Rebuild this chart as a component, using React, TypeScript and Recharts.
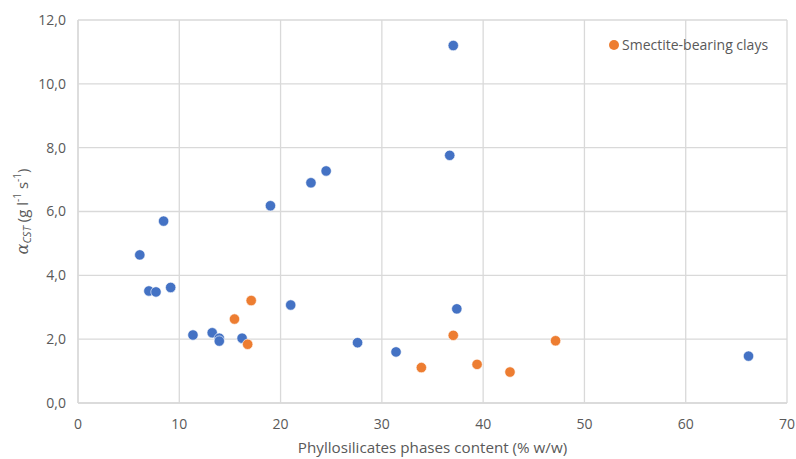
import React from "react";
import { ScatterChart, Scatter, XAxis, YAxis, CartesianGrid, Legend, Label } from "recharts";

// blue series: all clays (x = phyllosilicates %, y = alpha CST)
const clayX = [6.1, 7.0, 7.7, 8.45, 9.15, 11.35, 13.25, 13.95, 13.95, 16.2, 19.0, 21.0, 23.0, 24.5, 27.6, 31.4, 36.7, 37.05, 37.4, 66.2];
const clayY = [4.64, 3.51, 3.48, 5.70, 3.62, 2.13, 2.20, 2.03, 1.94, 2.03, 6.18, 3.07, 6.90, 7.27, 1.89, 1.60, 7.76, 11.2, 2.95, 1.47];

// orange series: smectite-bearing clays
const smectiteX = [15.45, 16.75, 17.1, 33.9, 37.05, 39.4, 42.65, 47.15];
const smectiteY = [2.63, 1.84, 3.21, 1.11, 2.12, 1.21, 0.97, 1.95];

const xTicks = [0, 10, 20, 30, 40, 50, 60, 70];
const yTicks = [0, 2, 4, 6, 8, 10, 12];

const BLUE = "#4472C4";
const ORANGE = "#ED7D31";
const TEXT = "#595959";
const GRID = "#D9D9D9";

const clayData = clayX.map((x, i) => ({ x, y: clayY[i] }));
const smectiteData = smectiteX.map((x, i) => ({ x, y: smectiteY[i] }));

const dot = (color: string) => (props: any) =>
  <circle cx={props.cx} cy={props.cy} r={5.2} fill={color} stroke="#fff" strokeWidth={0.6} />;

const fmt = (v: number) => v.toFixed(1).replace(".", ",");

function YTitle(props: any) {
  const vb = props.viewBox || {};
  const cx = 22;
  const cy = vb.y + vb.height / 2;
  return (
    <text x={cx} y={cy} transform={`rotate(-90 ${cx} ${cy})`} textAnchor="middle" dominantBaseline="central"
      fill={TEXT} fontSize={15}>
      <tspan fontStyle="italic" fontFamily="DejaVu Serif" fontSize={16}>α</tspan>
      <tspan fontStyle="italic" fontSize={11} dy={4}>CST</tspan>
      <tspan dy={-4}> (g l</tspan>
      <tspan fontSize={10} dy={-5}>-1</tspan>
      <tspan dy={5}> s</tspan>
      <tspan fontSize={10} dy={-5}>-1</tspan>
      <tspan dy={5}>)</tspan>
    </text>
  );
}

function XTitle(props: any) {
  const vb = props.viewBox || {};
  return (
    <text x={vb.x + vb.width / 2} y={453} textAnchor="middle" fill={TEXT} fontSize={15.2}>
      Phyllosilicates phases content (% w/w)
    </text>
  );
}

function LegendBox() {
  return (
    <div style={{ display: "flex", alignItems: "center", fontSize: 14, color: TEXT }}>
      <span style={{ width: 10, height: 10, borderRadius: 5, background: ORANGE, display: "inline-block", marginRight: 3 }} />
      <span>Smectite-bearing clays</span>
    </div>
  );
}

export default function App() {
  return (
    <div style={{ width: 796, height: 459, background: "#fff", fontFamily: "'Open Sans', sans-serif" }}>
      <style>{"body{margin:0}"}</style>
      <ScatterChart width={796} height={459} margin={{ top: 20, right: 9, bottom: 26, left: 18 }}>
        <CartesianGrid stroke={GRID} strokeWidth={1.3} />
        <XAxis type="number" dataKey="x" domain={[0, 70]} ticks={xTicks} interval={0} height={30}
          axisLine={{ stroke: GRID, strokeWidth: 1.3 }} tickLine={false} tickSize={0} tickMargin={16}
          tick={{ fill: TEXT, fontSize: 14 }}>
          <Label content={<XTitle />} />
        </XAxis>
        <YAxis type="number" dataKey="y" domain={[0, 12]} ticks={yTicks} interval={0} width={60}
          axisLine={{ stroke: GRID, strokeWidth: 1.3 }} tickLine={false} tickSize={0} tickMargin={12}
          tickFormatter={fmt} tick={{ fill: TEXT, fontSize: 14 }}>
          <Label content={<YTitle />} />
        </YAxis>
        <Legend content={<LegendBox />} layout="vertical" verticalAlign="middle" align="center"
          wrapperStyle={{ top: 35, left: 609, width: 180 }} />
        <Scatter name="All clays" data={clayData} fill={BLUE} legendType="none" shape={dot(BLUE)} isAnimationActive={false} />
        <Scatter name="Smectite-bearing clays" data={smectiteData} fill={ORANGE} shape={dot(ORANGE)} isAnimationActive={false} />
      </ScatterChart>
    </div>
  );
}
